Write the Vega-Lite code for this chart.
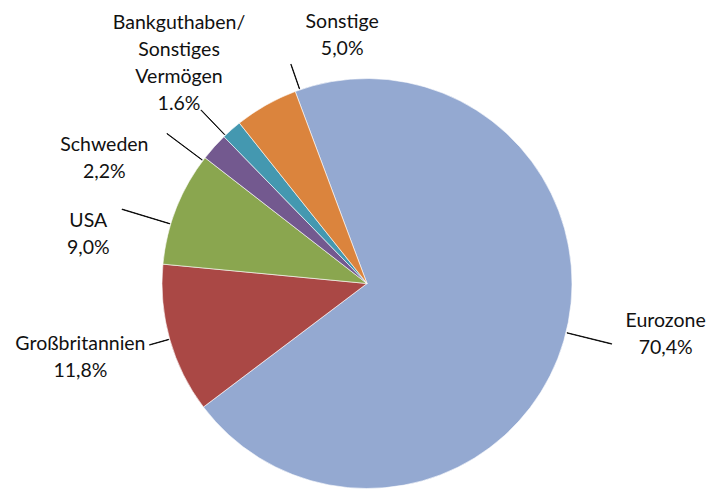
{
  "$schema": "https://vega.github.io/schema/vega-lite/v6.json",
  "autosize": "none",
  "width": 734,
  "height": 567,
  "padding": 0,
  "background": "white",
  "config": {"view": {"stroke": null}, "text": {"font": "Lato", "fontSize": 19.5, "lineHeight": 27, "color": "#111111"}},
  "data": {"values": [
    {"idx": 1, "name": "Eurozone", "value": 70.4, "label": "Eurozone\n70,4%"},
    {"idx": 2, "name": "Großbritannien", "value": 11.8, "label": "Großbritannien\n11,8%"},
    {"idx": 3, "name": "USA", "value": 9.0, "label": "USA\n9,0%"},
    {"idx": 4, "name": "Schweden", "value": 2.2, "label": "Schweden\n2,2%"},
    {"idx": 5, "name": "Bankguthaben/ Sonstiges Vermögen", "value": 1.6, "label": "Bankguthaben/\nSonstiges\nVermögen\n1.6%"},
    {"idx": 6, "name": "Sonstige", "value": 5.0, "label": "Sonstige\n5,0%"}
  ]},
  "transform": [
    {"window": [{"op": "sum", "field": "value", "as": "cum"}], "sort": [{"field": "idx", "order": "ascending"}], "frame": [null, 0]},
    {"calculate": "datum.cum - datum.value / 2", "as": "mid"},
    {"calculate": "datum.mid + 0.03", "as": "mid2"}
  ],
  "layer": [
    {
      "mark": {"type": "arc", "outerRadius": 205, "stroke": "#ffffff", "strokeWidth": 0.6},
      "encoding": {
        "theta": {"field": "value", "type": "quantitative", "stack": true, "scale": {"domain": [0, 100], "range": [-0.3578, 5.9254]}},
        "color": {"field": "name", "type": "nominal", "legend": null,
          "scale": {"domain": ["Eurozone", "Großbritannien", "USA", "Schweden", "Bankguthaben/ Sonstiges Vermögen", "Sonstige"],
                    "range": ["#94A9D1", "#AA4845", "#8AA64F", "#73598F", "#4498B0", "#DB843D"]}},
        "order": {"field": "idx", "type": "quantitative"}
      }
    },
    {
      "transform": [{"filter": "datum.name === 'Eurozone'"}],
      "mark": {"type": "arc", "innerRadius": 206, "outerRadius": 252, "thetaOffset": -0.042, "theta2Offset": -0.042, "fill": "#000000", "stroke": "#000000", "strokeWidth": 0.8},
      "encoding": {"theta": {"field": "mid", "type": "quantitative", "stack": null, "scale": {"domain": [0, 100], "range": [-0.3578, 5.9254]}}, "theta2": {"field": "mid2"}}
    },
    {
      "transform": [{"filter": "datum.name === 'Großbritannien'"}],
      "mark": {"type": "arc", "innerRadius": 206, "outerRadius": 226, "fill": "#000000", "stroke": "#000000", "strokeWidth": 0.8},
      "encoding": {"theta": {"field": "mid", "type": "quantitative", "stack": null, "scale": {"domain": [0, 100], "range": [-0.3578, 5.9254]}}, "theta2": {"field": "mid2"}}
    },
    {
      "transform": [{"filter": "datum.name === 'USA'"}],
      "mark": {"type": "arc", "innerRadius": 206, "outerRadius": 256, "thetaOffset": -0.084, "theta2Offset": -0.084, "fill": "#000000", "stroke": "#000000", "strokeWidth": 0.8},
      "encoding": {"theta": {"field": "mid", "type": "quantitative", "stack": null, "scale": {"domain": [0, 100], "range": [-0.3578, 5.9254]}}, "theta2": {"field": "mid2"}}
    },
    {
      "transform": [{"filter": "datum.name === 'Schweden'"}],
      "mark": {"type": "arc", "innerRadius": 206, "outerRadius": 250, "thetaOffset": -0.087, "theta2Offset": -0.087, "fill": "#000000", "stroke": "#000000", "strokeWidth": 0.8},
      "encoding": {"theta": {"field": "mid", "type": "quantitative", "stack": null, "scale": {"domain": [0, 100], "range": [-0.3578, 5.9254]}}, "theta2": {"field": "mid2"}}
    },
    {
      "transform": [{"filter": "datum.idx === 5"}],
      "mark": {"type": "arc", "innerRadius": 206, "outerRadius": 240, "thetaOffset": -0.042, "theta2Offset": -0.042, "fill": "#000000", "stroke": "#000000", "strokeWidth": 0.8},
      "encoding": {"theta": {"field": "mid", "type": "quantitative", "stack": null, "scale": {"domain": [0, 100], "range": [-0.3578, 5.9254]}}, "theta2": {"field": "mid2"}}
    },
    {
      "transform": [{"filter": "datum.name === 'Sonstige'"}],
      "mark": {"type": "arc", "innerRadius": 206, "outerRadius": 232, "thetaOffset": 0.18, "theta2Offset": 0.18, "fill": "#000000", "stroke": "#000000", "strokeWidth": 0.8},
      "encoding": {"theta": {"field": "mid", "type": "quantitative", "stack": null, "scale": {"domain": [0, 100], "range": [-0.3578, 5.9254]}}, "theta2": {"field": "mid2"}}
    },
    {
      "transform": [{"filter": "datum.name === 'Eurozone'"}],
      "mark": {"type": "text", "radius": 303, "thetaOffset": -0.113, "align": "center", "baseline": "middle", "lineBreak": "\n", "dy": -13.5},
      "encoding": {"theta": {"field": "mid", "type": "quantitative", "stack": null, "scale": {"domain": [0, 100], "range": [-0.3578, 5.9254]}}, "text": {"field": "label"}}
    },
    {
      "transform": [{"filter": "datum.name === 'Großbritannien'"}],
      "mark": {"type": "text", "radius": 296, "thetaOffset": 0.023, "align": "center", "baseline": "middle", "lineBreak": "\n", "dy": -13.5},
      "encoding": {"theta": {"field": "mid", "type": "quantitative", "stack": null, "scale": {"domain": [0, 100], "range": [-0.3578, 5.9254]}}, "text": {"field": "label"}}
    },
    {
      "transform": [{"filter": "datum.name === 'USA'"}],
      "mark": {"type": "text", "radius": 283, "thetaOffset": -0.204, "align": "center", "baseline": "middle", "lineBreak": "\n", "dy": -13.5},
      "encoding": {"theta": {"field": "mid", "type": "quantitative", "stack": null, "scale": {"domain": [0, 100], "range": [-0.3578, 5.9254]}}, "text": {"field": "label"}}
    },
    {
      "transform": [{"filter": "datum.name === 'Schweden'"}],
      "mark": {"type": "text", "radius": 291, "thetaOffset": -0.284, "align": "center", "baseline": "middle", "lineBreak": "\n", "dy": -13.5},
      "encoding": {"theta": {"field": "mid", "type": "quantitative", "stack": null, "scale": {"domain": [0, 100], "range": [-0.3578, 5.9254]}}, "text": {"field": "label"}}
    },
    {
      "transform": [{"filter": "datum.idx === 5"}],
      "mark": {"type": "text", "radius": 290, "thetaOffset": 0.017, "align": "center", "baseline": "middle", "lineBreak": "\n", "dy": -40},
      "encoding": {"theta": {"field": "mid", "type": "quantitative", "stack": null, "scale": {"domain": [0, 100], "range": [-0.3578, 5.9254]}}, "text": {"field": "label"}}
    },
    {
      "transform": [{"filter": "datum.name === 'Sonstige'"}],
      "mark": {"type": "text", "radius": 249, "thetaOffset": 0.415, "align": "center", "baseline": "middle", "lineBreak": "\n", "dy": -13.5},
      "encoding": {"theta": {"field": "mid", "type": "quantitative", "stack": null, "scale": {"domain": [0, 100], "range": [-0.3578, 5.9254]}}, "text": {"field": "label"}}
    }
  ]
}
